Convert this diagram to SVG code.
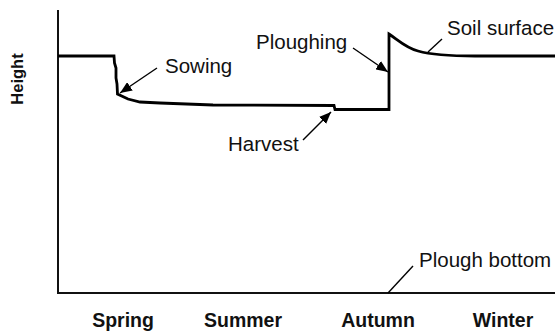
<svg xmlns="http://www.w3.org/2000/svg" width="555" height="334" viewBox="0 0 555 334">
<style>
.lbl{font-family:"Liberation Sans",Arial,sans-serif;font-size:20.5px;fill:#111}
.season{font-family:"Liberation Sans",Arial,sans-serif;font-size:19.5px;font-weight:bold;fill:#111;text-anchor:middle}
.ax{fill:none;stroke:#111;stroke-width:2}
.soil{fill:none;stroke:#000;stroke-width:2.8;stroke-linejoin:miter}
.lead{fill:none;stroke:#000;stroke-width:1.4}
</style>
<defs>
<marker id="ah" viewBox="0 0 12 10" refX="12" refY="5" markerWidth="12" markerHeight="10" markerUnits="userSpaceOnUse" orient="auto">
<path d="M0,0 L12,5 L0,10 Z" fill="#000"/>
</marker>
</defs>
<rect width="555" height="334" fill="#fff"/>
<g id="axes">
<path class="ax" d="M58,10 V293 H555"/>
</g>
<g id="soil-line">
<path class="soil" d="M58,56 H114 L114.5,63 L116,68 L116,78 L117,84 L117.5,94 L128,99 L140,102 L160,103 L213,105 L334,105.5 L335,109.5 L389,109.5 V34 C398,40 406,48 418,51 C432,55 450,56 475,56 H555"/>
</g>
<g id="connectors">
<line class="lead" x1="157" y1="68" x2="120" y2="93" marker-end="url(#ah)"/>
<line class="lead" x1="303" y1="140" x2="331" y2="112" marker-end="url(#ah)"/>
<line class="lead" x1="353" y1="48" x2="388" y2="72" marker-end="url(#ah)"/>
<line class="lead" x1="428" y1="52" x2="442" y2="39"/>
<line class="lead" x1="388" y1="293" x2="413" y2="266"/>
</g>
<g id="label-sowing"><text class="lbl" x="165" y="72.5">Sowing</text></g>
<g id="label-harvest"><text class="lbl" x="228" y="151">Harvest</text></g>
<g id="label-ploughing"><text class="lbl" x="256" y="49">Ploughing</text></g>
<g id="label-soil-surface"><text class="lbl" x="447" y="35">Soil surface</text></g>
<g id="label-plough-bottom"><text class="lbl" x="419" y="267">Plough bottom</text></g>
<g id="label-height"><text x="0" y="0" transform="translate(23,79) rotate(-90)" style="font-family:'Liberation Sans',Arial,sans-serif;font-size:16.5px;font-weight:bold;fill:#111;text-anchor:middle">Height</text></g>
<g id="seasons">
<text class="season" x="123" y="327">Spring</text>
<text class="season" x="243" y="327">Summer</text>
<text class="season" x="378" y="327">Autumn</text>
<text class="season" x="503" y="327">Winter</text>
</g>
</svg>
